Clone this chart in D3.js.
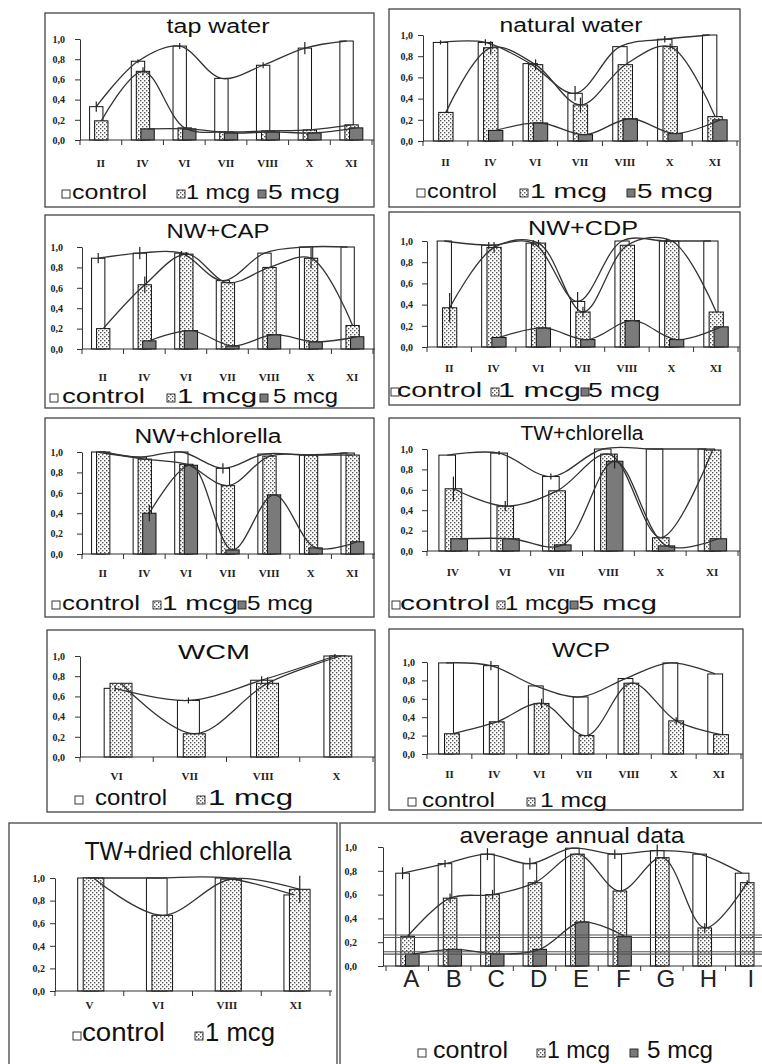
<!DOCTYPE html>
<html>
<head>
<meta charset="utf-8">
<script src="https://cdn.jsdelivr.net/npm/d3@7"></script>
<style>
  body { margin: 0; background: #fff; }
  svg { display: block; }
</style>
</head>
<body>
<div id="chart"></div>
<script>
const W = 762;
const H = 1064;

// categories
const months7 = ['II', 'IV', 'VI', 'VII', 'VIII', 'X', 'XI'];
const monthsTWC = ['IV', 'VI', 'VII', 'VIII', 'X', 'XI'];
const monthsWCM = ['VI', 'VII', 'VIII', 'X'];
const monthsDried = ['V', 'VI', 'VIII', 'XI'];
const sites = ['A', 'B', 'C', 'D', 'E', 'F', 'G', 'H', 'I'];
const yTicks = [0, 0.2, 0.4, 0.6, 0.8, 1.0];
const yTickLabels = ['0,0', '0,2', '0,4', '0,6', '0,8', '1,0'];
const seriesNames = ['control', '1 mcg', '5 mcg'];

// tap water
const tapControl = [0.33, 0.78, 0.93, 0.61, 0.74, 0.91, 0.98];
const tap1 = [0.19, 0.68, 0.12, 0.08, 0.09, 0.10, 0.15];
const tap5 = [null, 0.11, 0.11, 0.07, 0.08, 0.07, 0.12];
const tapErrC = [0.05, 0.02, 0.03, 0, 0.03, 0.06, 0];
const tapErr1 = [0, 0.04, 0, 0, 0, 0, 0];

// natural water
const natControl = [0.93, 0.93, 0.73, 0.45, 0.89, 0.96, 1.0];
const nat1 = [0.27, 0.88, 0.72, 0.34, 0.72, 0.89, 0.23];
const nat5 = [null, 0.10, 0.17, 0.06, 0.21, 0.07, 0.20];
const natErrC = [0.02, 0.03, 0, 0.07, 0, 0.03, 0];
const natErr1 = [0, 0.06, 0.05, 0.07, 0, 0.03, 0];

// NW+CAP
const capControl = [0.89, 0.94, 0.94, 0.67, 0.94, 1.0, 1.0];
const cap1 = [0.20, 0.63, 0.93, 0.65, 0.80, 0.89, 0.23];
const cap5 = [null, 0.08, 0.18, 0.03, 0.14, 0.07, 0.12];
const capErrC = [0.05, 0.06, 0.02, 0, 0, 0, 0];
const capErr1 = [0, 0.08, 0.02, 0, 0, 0.1, 0];

// NW+CDP
const cdpControl = [1.0, 0.96, 0.98, 0.43, 1.0, 1.0, 1.0];
const cdp1 = [0.37, 0.94, 0.98, 0.33, 0.96, 1.0, 0.33];
const cdp5 = [null, 0.09, 0.18, 0.07, 0.25, 0.07, 0.19];
const cdpErrC = [0, 0.03, 0.03, 0.09, 0, 0.03, 0];
const cdpErr1 = [0.14, 0.05, 0.03, 0.05, 0, 0, 0];

// NW+chlorella
const nwcControl = [1.0, 0.95, 1.0, 0.84, 0.98, 0.97, 0.99];
const nwc1 = [1.0, 0.93, 0.88, 0.67, 0.96, 0.97, 0.97];
const nwc5 = [null, 0.40, 0.87, 0.04, 0.58, 0.06, 0.12];
const nwcErrC = [0, 0, 0, 0.05, 0, 0, 0];
const nwcErr5 = [0, 0.08, 0, 0, 0, 0, 0];

// TW+chlorella
const twcControl = [0.94, 0.96, 0.73, 1.0, 1.0, 1.0];
const twc1 = [0.61, 0.44, 0.59, 0.95, 0.13, 0.99];
const twc5 = [0.12, 0.12, 0.06, 0.88, 0.05, 0.12];
const twcErrC = [0, 0.02, 0.03, 0, 0, 0];
const twcErr1 = [0.12, 0.05, 0, 0, 0, 0];
const twcErr5 = [0, 0, 0, 0.07, 0, 0];

// WCM
const wcmControl = [0.68, 0.56, 0.76, 1.0];
const wcm1 = [0.73, 0.23, 0.73, 1.0];
const wcmErrC = [0.03, 0.03, 0.04, 0.02];
const wcmErr1 = [0, 0, 0.06, 0];

// WCP
const wcpControl = [0.99, 0.96, 0.74, 0.62, 0.82, 0.99, 0.87];
const wcp1 = [0.22, 0.35, 0.55, 0.20, 0.77, 0.36, 0.21];
const wcpErrC = [0, 0.05, 0, 0, 0, 0, 0];
const wcpErr1 = [0, 0, 0.05, 0, 0, 0.04, 0];

// TW+dried chlorella
const driedControl = [1.0, 1.0, 1.0, 0.85];
const dried1 = [1.0, 0.67, 0.99, 0.90];
const driedErr1 = [0, 0, 0, 0.12];

// average annual data
const avgControl = [0.78, 0.86, 0.94, 0.86, 0.99, 0.94, 0.97, 0.94, 0.78];
const avg1 = [0.25, 0.57, 0.60, 0.70, 0.94, 0.63, 0.91, 0.32, 0.70];
const avg5 = [0.10, 0.14, 0.10, 0.14, 0.37, 0.25, null, null, null];
const avgErrC = [0.05, 0.03, 0.05, 0.05, 0, 0.04, 0.05, 0, 0];
const avgErr1 = [0, 0.04, 0.04, 0.02, 0, 0, 0, 0.04, 0.02];
const avgLevels = [0.25, 0.11];

const svg = d3.select('#chart').append('svg')
  .attr('width', W)
  .attr('height', H);

// dotted fill for 1 mcg
const pat = svg.append('defs').append('pattern')
  .attr('id', 'dots')
  .attr('width', 4).attr('height', 4)
  .attr('patternUnits', 'userSpaceOnUse');
pat.append('rect').attr('width', 4).attr('height', 4).attr('fill', '#fff');
pat.append('rect').attr('x', 0).attr('y', 0).attr('width', 1.4).attr('height', 1.4).attr('fill', '#555');
pat.append('rect').attr('x', 2).attr('y', 2).attr('width', 1.4).attr('height', 1.4).attr('fill', '#555');

const fills = ['#fff', 'url(#dots)', '#7a7a7a'];
const sans = 'Liberation Sans, Arial, sans-serif';
const serif = 'Liberation Serif, Times New Roman, serif';

const geo3 = { off: [-0.27, -0.15, -0.04], w: 0.32 };
const geoWCP = { off: [-0.24, -0.11], w: 0.33 };
const geo2 = { off: [-0.17, -0.09], w: 0.3 };

const panels = [
  { title: 'tap water', cats: months7, vals: [tapControl, tap1, tap5], errs: [tapErrC, tapErr1],
    box: [45, 13, 374, 207], x0: 80, x1: 372, y1: 39, y0: 140, geo: geo3,
    tt: [218, 33, 20, 103], xl: 167, tickEnd: 65,
    leg: [199, 21, [[62, 72, 75], [177, 186, 64], [258, 268, 72]]] },
  { title: 'natural water', cats: months7, vals: [natControl, nat1, nat5], errs: [natErrC, natErr1],
    box: [389, 9, 740, 207], x0: 423, x1: 737, y1: 35, y0: 141, geo: geo3,
    tt: [571, 32, 20, 143], xl: 166, tickEnd: 413,
    leg: [198, 21, [[417, 427, 70], [520, 530, 77], [627, 637, 76]]] },
  { title: 'NW+CAP', cats: months7, vals: [capControl, cap1, cap5], errs: [capErrC, capErr1],
    box: [45, 215, 374, 408], x0: 82, x1: 373, y1: 247, y0: 349, geo: geo3,
    tt: [218, 238, 20, 103], xl: 381, tickEnd: 63,
    leg: [403, 21, [[50, 62, 83], [167, 177, 80], [260, 273, 65]]] },
  { title: 'NW+CDP', cats: months7, vals: [cdpControl, cdp1, cdp5], errs: [cdpErrC, cdpErr1],
    box: [389, 212, 740, 405], x0: 427, x1: 738, y1: 241, y0: 347, geo: geo3,
    tt: [583, 235, 20, 110], xl: 372, tickEnd: 413,
    leg: [397, 21, [[391, 397, 85], [491, 498, 83], [581, 588, 72]]] },
  { title: 'NW+chlorella', cats: months7, vals: [nwcControl, nwc1, nwc5], errs: [nwcErrC, null, nwcErr5],
    box: [45, 418, 374, 617], x0: 82, x1: 373, y1: 452, y0: 554, geo: geo3,
    tt: [208, 443, 20, 147], xl: 577, tickEnd: 63,
    leg: [610, 21, [[52, 62, 78], [153, 162, 76], [238, 247, 66]]] },
  { title: 'TW+chlorella', cats: monthsTWC, vals: [twcControl, twc1, twc5], errs: [twcErrC, twcErr1, twcErr5],
    box: [389, 418, 740, 617], x0: 427, x1: 738, y1: 449, y0: 551, geo: geo3,
    tt: [582, 440, 20, 123], xl: 576, tickEnd: 413,
    leg: [610, 21, [[392, 400, 90], [497, 505, 65], [570, 578, 79]]] },
  { title: 'WCM', cats: monthsWCM, vals: [wcmControl, wcm1], errs: [wcmErrC, wcmErr1],
    box: [47, 630, 375, 812], x0: 80, x1: 373, y1: 656, y0: 757, geo: geo2,
    tt: [214, 659, 20, 72], xl: 780, tickEnd: 65,
    leg: [805, 22, [[75, 95, 72], [197, 208, 85]]] },
  { title: 'WCP', cats: months7, vals: [wcpControl, wcp1], errs: [wcpErrC, wcpErr1],
    box: [389, 629, 743, 810], x0: 427, x1: 741, y1: 662, y0: 754, geo: geoWCP,
    tt: [581, 657, 20, 58], xl: 778, tickEnd: 415,
    leg: [807, 21, [[408, 422, 73], [527, 540, 67]]] },
  { title: 'TW+dried chlorella', cats: monthsDried, vals: [driedControl, dried1], errs: [null, driedErr1],
    box: [9, 823, 337, 1070], x0: 55, x1: 330, y1: 878, y0: 991, geo: geo2,
    tt: [188, 860, 25, 207], xl: 1009, tickEnd: 45,
    leg: [1041, 25, [[73, 82, 83], [195, 205, 70]]] },
  { title: 'average annual data', cats: sites, vals: [avgControl, avg1, avg5], errs: [avgErrC, avgErr1],
    box: [340, 823, 775, 1070], x0: 386, x1: 768, axisX: 383, y1: 847, y0: 966, geo: geo3,
    tt: [572, 843, 22, 225], xl: 987, tickEnd: 357, bigLabels: true, levels: avgLevels,
    leg: [1058, 24, [[418, 433, 75], [537, 547, 63], [630, 647, 66]]] }
];

function drawPanel(p) {
  const g = svg.append('g');

  g.append('rect')
    .attr('x', p.box[0]).attr('y', p.box[1])
    .attr('width', p.box[2] - p.box[0]).attr('height', p.box[3] - p.box[1])
    .attr('fill', 'none').attr('stroke', '#444').attr('stroke-width', 1.3);

  const x = d3.scaleBand().domain(p.cats).range([p.x0, p.x1]);
  const y = d3.scaleLinear().domain([0, 1]).range([p.y0, p.y1]);
  const bw = x.bandwidth();
  const barX = (c, s) => x(c) + bw / 2 + p.geo.off[s] * bw;
  const barW = p.geo.w * bw;
  const midX = (c, s) => barX(c, s) + barW / 2;

  // bars
  p.vals.forEach((vals, s) => {
    const rows = p.cats.map((c, i) => ({ c, v: vals[i] })).filter(d => d.v != null);
    g.append('g').selectAll('rect').data(rows).join('rect')
      .attr('x', d => barX(d.c, s))
      .attr('y', d => y(d.v))
      .attr('width', barW)
      .attr('height', d => y(0) - y(d.v))
      .attr('fill', fills[s])
      .attr('stroke', '#111')
      .attr('stroke-width', 1);
  });

  // reference levels (average panel)
  (p.levels || []).forEach(v => {
    [-1.2, 1.2].forEach(dy => {
      g.append('line')
        .attr('x1', p.axisX).attr('x2', W)
        .attr('y1', y(v) + dy).attr('y2', y(v) + dy)
        .attr('stroke', '#555').attr('stroke-width', 1.1);
    });
  });

  // smoothed lines
  const line = d3.line()
    .defined(d => d.v != null)
    .x(d => d.x)
    .y(d => y(d.v))
    .curve(d3.curveCatmullRom.alpha(0.5));
  p.vals.forEach((vals, s) => {
    const pts = p.cats.map((c, i) => ({ x: midX(c, s), v: vals[i] }));
    g.append('path')
      .attr('d', line(pts.filter(d => d.v != null)))
      .attr('fill', 'none')
      .attr('stroke', '#333')
      .attr('stroke-width', 1.3);
  });

  // error bars
  p.errs.forEach((errs, s) => {
    if (!errs) return;
    p.cats.forEach((c, i) => {
      const v = p.vals[s][i];
      if (v == null || !errs[i]) return;
      g.append('line')
        .attr('x1', midX(c, s)).attr('x2', midX(c, s))
        .attr('y1', y(Math.min(1.02, v + errs[i]))).attr('y2', y(v - errs[i]))
        .attr('stroke', '#222').attr('stroke-width', 1.2);
    });
  });

  // y axis
  const ax = p.axisX || p.x0;
  const yAxis = d3.axisLeft(y)
    .tickValues(yTicks)
    .tickFormat((d, i) => yTickLabels[i])
    .tickSize(5)
    .tickSizeOuter(0)
    .tickPadding(ax - 5 - p.tickEnd);
  const yg = g.append('g').attr('transform', `translate(${ax},0)`).call(yAxis);
  yg.selectAll('text').attr('font-family', serif).attr('font-size', 10).attr('font-weight', 'bold').attr('fill', '#222');
  yg.selectAll('line, path').attr('stroke', '#333');

  // x axis with ticks at band edges
  g.append('line')
    .attr('x1', ax).attr('x2', p.x1 + 2)
    .attr('y1', y(0)).attr('y2', y(0))
    .attr('stroke', '#333').attr('stroke-width', 1.2);
  const edges = p.cats.map(c => x(c)).concat([p.x1]);
  g.append('g').selectAll('line').data(edges).join('line')
    .attr('x1', d => d).attr('x2', d => d)
    .attr('y1', y(0)).attr('y2', y(0) + 5)
    .attr('stroke', '#333');

  g.append('g').selectAll('text').data(p.cats).join('text')
    .attr('x', c => x(c) + bw / 2 + (p.bigLabels ? 4 : 0))
    .attr('y', p.xl)
    .attr('text-anchor', 'middle')
    .attr('font-family', p.bigLabels ? sans : serif)
    .attr('font-size', p.bigLabels ? 24 : 11)
    .attr('font-weight', p.bigLabels ? 'normal' : 'bold')
    .attr('fill', '#222')
    .text(c => c);

  // title
  g.append('text')
    .attr('x', p.tt[0] - p.tt[3] / 2)
    .attr('y', p.tt[1])
    .attr('font-family', sans)
    .attr('font-size', p.tt[2])
    .attr('textLength', p.tt[3])
    .attr('lengthAdjust', 'spacingAndGlyphs')
    .attr('fill', '#111')
    .text(p.title);

  // legend
  const [ly, lsize, items] = p.leg;
  items.forEach((it, s) => {
    g.append('rect')
      .attr('x', it[0]).attr('y', ly - 9)
      .attr('width', 8).attr('height', 8)
      .attr('fill', fills[s])
      .attr('stroke', '#222').attr('stroke-width', 0.9);
    g.append('text')
      .attr('x', it[1]).attr('y', ly)
      .attr('font-family', sans)
      .attr('font-size', lsize)
      .attr('textLength', it[2])
      .attr('lengthAdjust', 'spacingAndGlyphs')
      .attr('fill', '#111')
      .text(seriesNames[s]);
  });
}

panels.forEach(drawPanel);
</script>
</body>
</html>
